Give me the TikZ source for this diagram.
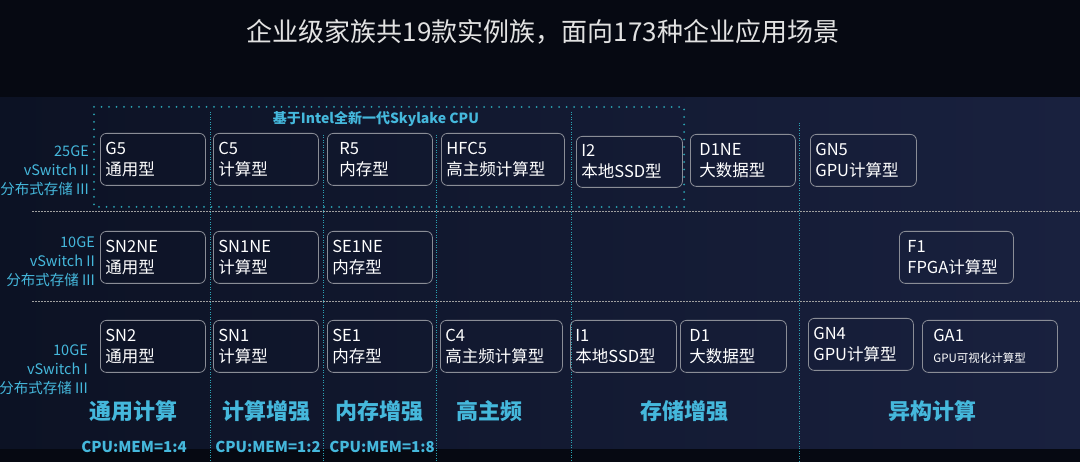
\documentclass[tikz,border=0pt]{standalone}
\usepackage{fontspec}
\setmainfont{Noto Sans CJK SC}
\definecolor{bgdark}{HTML}{060912}
\definecolor{panelleft}{HTML}{0C1224}
\definecolor{panelright}{HTML}{19213F}
\definecolor{labelteal}{HTML}{45B8DC}
\definecolor{lineteal}{HTML}{2BA3B3}
\definecolor{boxgray}{HTML}{8A8D96}
\definecolor{titlegray}{HTML}{E2E2E2}
\tikzset{inst/.style={draw=boxgray, rounded corners=6pt, line width=0.8pt, text=white,
align=left, anchor=north west, inner xsep=5pt, inner ysep=0pt, minimum height=52pt,
font=\fontsize{16.5}{21}\selectfont},
netlabel/.style={text=labelteal, align=right, anchor=east, inner sep=0pt,
font=\fontsize{14.5}{19}\selectfont},
category/.style={text=labelteal, inner sep=0pt, font=\fontsize{22}{24}\selectfont\bfseries},
ratio/.style={text=labelteal, inner sep=0pt, font=\fontsize{15}{17}\selectfont\bfseries},
rowsep/.style={draw=gray!75, line width=1pt, dash pattern=on 1.5pt off 1.5pt},
colsep/.style={draw=lineteal, line width=0.8pt, dash pattern=on 1pt off 1.5pt},
skybox/.style={draw=lineteal, line width=2pt, line cap=round, dash pattern=on 0pt off 7.5pt}}

\begin{document}
\begin{tikzpicture}[x=1pt, y=-1pt]
	\useasboundingbox (0,0) rectangle (1080,462);
	\fill[bgdark] (0,0) rectangle (1080,462);
	\shade[left color=panelleft, right color=panelright] (0,98) rectangle (1080,449);
	\node[text=titlegray, font=\fontsize{26}{30}\selectfont] (title) at (543,32) {企业级家族共19款实例族，面向173种企业应用场景};
	% separators
	\draw[rowsep] (32,212) -- (1080,212);
	\draw[rowsep] (32,302) -- (1080,302);
	\draw[colsep] (210,112) -- (210,462);
	\draw[colsep] (323,135) -- (323,462);
	\draw[colsep] (436,135) -- (436,462);
	\draw[colsep] (571,112) -- (571,462);
	\draw[colsep] (799,123) -- (799,462);
	\draw[skybox] (94,107) rectangle (684,207);
	\node[text=labelteal, font=\fontsize{14}{16}\selectfont\bfseries] (skylake) at (376,119) {基于Intel全新一代Skylake CPU};
	% network / storage
	\node[netlabel] (net25) at (89,171) {25GE\\vSwitch II\\分布式存储 III};
	\node[netlabel] (net10b) at (95,262) {10GE\\vSwitch II\\分布式存储 III};
	\node[netlabel] (net10a) at (88,370) {10GE\\vSwitch I\\分布式存储 III};
	% 25GE row
	\node[inst, text width=95pt] (g5) at (100,133) {G5\\通用型};
	\node[inst, text width=95pt] (c5) at (213,133) {C5\\计算型};
	\node[inst, inner xsep=12pt, text width=81pt] (r5) at (327,133) {R5\\内存型};
	\node[inst, text width=113pt] (hfc5) at (441,133) {HFC5\\高主频计算型};
	\node[inst, text width=96pt, minimum height=51pt] (i2) at (576,136) {I2\\本地SSD型};
	\node[inst, inner xsep=9pt, text width=87pt] (d1ne) at (690,134) {D1NE\\大数据型};
	\node[inst, text width=96pt] (gn5) at (810,134) {GN5\\GPU计算型};
	% 10GE vSwitch II row
	\node[inst, text width=95pt] (sn2ne) at (100,231) {SN2NE\\通用型};
	\node[inst, text width=95pt] (sn1ne) at (213,231) {SN1NE\\计算型};
	\node[inst, text width=95pt] (se1ne) at (327,231) {SE1NE\\内存型};
	\node[inst, inner xsep=8pt, text width=98pt] (f1) at (899,231) {F1\\FPGA计算型};
	% 10GE vSwitch I row
	\node[inst, text width=95pt] (sn2) at (100,320) {SN2\\通用型};
	\node[inst, text width=95pt] (sn1) at (213,320) {SN1\\计算型};
	\node[inst, text width=95pt] (se1) at (327,320) {SE1\\内存型};
	\node[inst, text width=112pt] (c4) at (440,320) {C4\\高主频计算型};
	\node[inst, text width=96pt] (i1) at (570,320) {I1\\本地SSD型};
	\node[inst, inner xsep=9pt, text width=88pt] (d1) at (680,320) {D1\\大数据型};
	\node[inst, text width=95pt] (gn4) at (808,318) {GN4\\GPU计算型};
	\node[inst, inner xsep=11pt, text width=113pt] (ga1) at (922,320) {GA1\\{\fontsize{11.5}{14}\selectfont GPU可视化计算型}};
	% categories
	\node[category] (general) at (133,411) {通用计算};
	\node[category] (compute) at (266,411) {计算增强};
	\node[category] (memory) at (379,411) {内存增强};
	\node[category] (highfreq) at (489,411) {高主频};
	\node[category] (storage) at (684,411) {存储增强};
	\node[category] (hetero) at (932,411) {异构计算};
	\node[ratio] (ratiog) at (134,447) {CPU:MEM=1:4};
	\node[ratio] (ratioc) at (268,447) {CPU:MEM=1:2};
	\node[ratio] (ratiom) at (382,447) {CPU:MEM=1:8};
\end{tikzpicture}
\end{document}
